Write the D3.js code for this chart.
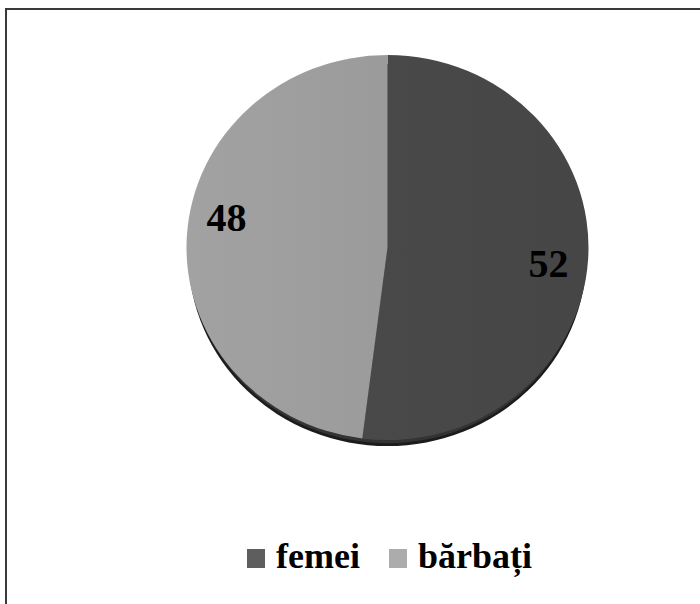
<!DOCTYPE html>
<html>
<head>
<meta charset="utf-8">
<script src="https://cdn.jsdelivr.net/npm/d3@7"></script>
<style>
  html, body { margin: 0; padding: 0; background: #fff; }
  svg { display: block; }
</style>
</head>
<body>
<svg id="chart" width="700" height="604"></svg>
<script>
// chart data
var categories = ['femei', 'bărbați'];
var values = [52, 48];
var colors = ['#474747', '#9d9d9d'];
var legendColors = ['#5e5e5e', '#acacac'];

var svg = d3.select('#chart');
var W = 700, H = 604;

// outer frame (runs off the right / bottom of the picture)
svg.append('rect')
    .attr('x', 6).attr('y', 9)
    .attr('width', W + 10).attr('height', H + 10)
    .attr('fill', '#fff')
    .attr('stroke', '#3a3a3a')
    .attr('stroke-width', 2);

var cx = 387.5, cy = 247.5;
var rx = 201, ry = 192.5;
var squash = ry / rx;

var pie = d3.pie().sort(null).value(function(d){ return d; });
var arcs = pie(values);
var arc = d3.arc().innerRadius(0).outerRadius(rx);
var labelArc = d3.arc().innerRadius(rx * 0.81).outerRadius(rx * 0.81);

var defs = svg.append('defs');
colors.forEach(function(c, i){
    var g = defs.append('linearGradient')
        .attr('id', 'grad' + i)
        .attr('x1', '0%').attr('y1', '0%').attr('x2', '100%').attr('y2', '0%');
    g.append('stop').attr('offset', '0%').attr('stop-color', d3.color(c).brighter(0.08));
    g.append('stop').attr('offset', '100%').attr('stop-color', d3.color(c).darker(0.04));
});

// depth / shadow under the pie
var depth = svg.append('g')
    .attr('transform', 'translate(' + cx + ',' + (cy + 8) + ') scale(1,' + squash + ')');
depth.append('circle').attr('r', rx - 2).attr('fill', '#1c1c1c');
depth.append('circle').attr('r', rx - 3).attr('cy', -2).attr('fill', '#343434');

var pieG = svg.append('g')
    .attr('transform', 'translate(' + cx + ',' + cy + ') scale(1,' + squash + ')');

pieG.selectAll('path.slice')
    .data(arcs)
    .enter()
    .append('path')
    .attr('class', 'slice')
    .attr('d', arc)
    .attr('fill', function(d, i){ return 'url(#grad' + i + ')'; });

// value labels
var rot = 5 * Math.PI / 180;
svg.selectAll('text.val')
    .data(arcs)
    .enter()
    .append('text')
    .attr('class', 'val')
    .attr('x', function(d){
        var c = labelArc.centroid({startAngle: d.startAngle + rot, endAngle: d.endAngle + rot});
        return cx + c[0];
    })
    .attr('y', function(d){
        var c = labelArc.centroid({startAngle: d.startAngle + rot, endAngle: d.endAngle + rot});
        return cy + c[1] * squash - 7;
    })
    .attr('dy', '0.34em')
    .attr('text-anchor', 'middle')
    .style('font-family', '"Liberation Serif", "Times New Roman", serif')
    .style('font-weight', 'bold')
    .style('font-size', '40px')
    .style('fill', '#000')
    .text(function(d){ return d.data; });

// legend
var legendX = d3.scaleOrdinal().domain(categories).range([247, 389]);
var legend = svg.selectAll('g.leg')
    .data(categories)
    .enter()
    .append('g')
    .attr('class', 'leg')
    .attr('transform', function(d){ return 'translate(' + legendX(d) + ',549)'; });

legend.append('rect')
    .attr('width', 18).attr('height', 19)
    .attr('fill', function(d, i){ return legendColors[i]; });

legend.append('text')
    .attr('x', 29)
    .attr('y', 19)
    .style('font-family', '"Liberation Serif", "Times New Roman", serif')
    .style('font-weight', 'bold')
    .style('font-size', '36px')
    .style('fill', '#000')
    .text(function(d){ return d; });
</script>
</body>
</html>
